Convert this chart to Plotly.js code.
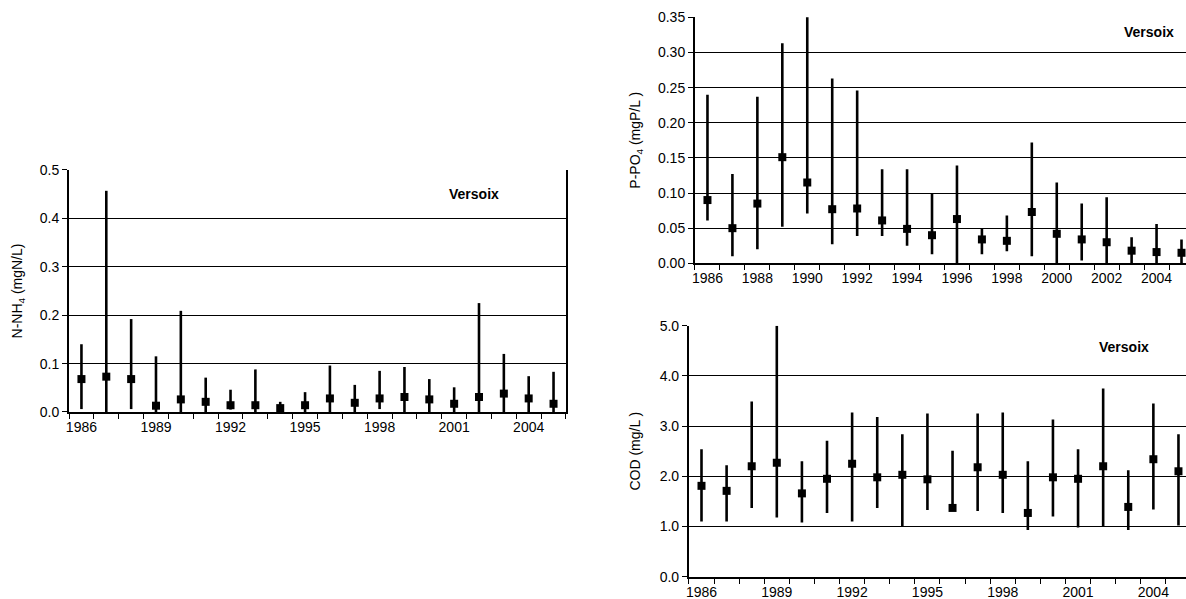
<!DOCTYPE html>
<html>
<head>
<meta charset="utf-8">
<script src="https://cdn.plot.ly/plotly-3.0.1.min.js"></script>
<style>
  html, body { margin: 0; padding: 0; background: #fff; }
  #chart { width: 1186px; height: 599px; }
</style>
</head>
<body>
<div id="chart"></div>
<script>
// Annual statistics for the Versoix: yearly mean with min-max range
const years = [1986, 1987, 1988, 1989, 1990, 1991, 1992, 1993, 1994, 1995,
               1996, 1997, 1998, 1999, 2000, 2001, 2002, 2003, 2004, 2005];

// Ammonium N-NH4 (mgN/L)
const nh4Mean = [0.068, 0.073, 0.068, 0.013, 0.026, 0.021, 0.014, 0.014, 0.008, 0.014,
                 0.028, 0.019, 0.028, 0.031, 0.026, 0.017, 0.031, 0.038, 0.028, 0.017];
const nh4Max  = [0.140, 0.457, 0.192, 0.115, 0.209, 0.071, 0.046, 0.088, 0.021, 0.041,
                 0.096, 0.056, 0.085, 0.093, 0.068, 0.051, 0.225, 0.120, 0.074, 0.083];
const nh4Min  = [0.006, 0.000, 0.006, 0.000, 0.000, 0.000, 0.005, 0.000, 0.000, 0.000,
                 0.000, 0.000, 0.006, 0.000, 0.000, 0.000, 0.000, 0.000, 0.000, 0.000];

// Orthophosphate P-PO4 (mgP/L)
const po4Mean = [0.090, 0.050, 0.085, 0.151, 0.115, 0.077, 0.078, 0.061, 0.049, 0.040,
                 0.063, 0.034, 0.032, 0.073, 0.042, 0.034, 0.030, 0.018, 0.016, 0.015];
const po4Max  = [0.240, 0.127, 0.237, 0.313, 0.356, 0.263, 0.246, 0.134, 0.134, 0.100,
                 0.139, 0.049, 0.068, 0.172, 0.115, 0.085, 0.094, 0.037, 0.056, 0.034];
const po4Min  = [0.061, 0.010, 0.020, 0.052, 0.071, 0.027, 0.039, 0.039, 0.025, 0.013,
                 0.000, 0.013, 0.017, 0.010, 0.000, 0.004, 0.000, 0.000, 0.000, 0.000];

// Chemical oxygen demand COD (mg/L)
const codMean = [1.81, 1.71, 2.20, 2.27, 1.66, 1.95, 2.25, 1.98, 2.03, 1.94,
                 1.37, 2.18, 2.03, 1.27, 1.98, 1.95, 2.20, 1.39, 2.34, 2.10];
const codMax  = [2.54, 2.22, 3.49, 5.00, 2.30, 2.71, 3.27, 3.18, 2.84, 3.25,
                 2.51, 3.25, 3.27, 2.30, 3.13, 2.54, 3.75, 2.12, 3.45, 2.84];
const codMin  = [1.10, 1.10, 1.37, 1.18, 1.08, 1.27, 1.10, 1.37, 1.00, 1.33,
                 1.37, 1.31, 1.27, 0.93, 1.20, 0.98, 1.00, 0.93, 1.34, 1.02];

const stationName = 'Versoix';
const labelsEvery3 = [1986, 1989, 1992, 1995, 1998, 2001, 2004];
const labelsEvery2 = [1986, 1988, 1990, 1992, 1994, 1996, 1998, 2000, 2002, 2004];

const FONT = '"Liberation Sans", Arial, Helvetica, sans-serif';
const boundaries = years.map(y => y - 0.5).concat([years[years.length - 1] + 0.5]);

function rangeTrace(mean, max, min, xa, ya) {
  return {
    type: 'scatter', mode: 'markers',
    x: years, y: mean, xaxis: xa, yaxis: ya,
    cliponaxis: false,
    marker: { symbol: 'square', size: 8, color: '#000' },
    error_y: {
      type: 'data', symmetric: false,
      array: max.map((v, i) => v - mean[i]),
      arrayminus: min.map((v, i) => mean[i] - v),
      color: '#000', thickness: 2.6, width: 0
    },
    hoverinfo: 'x+y'
  };
}

function xAxis(domain, labels, rightEdge, anchor) {
  return {
    domain: domain, anchor: anchor,
    range: [1985.5, rightEdge],
    tickmode: 'array', tickvals: labels, ticktext: labels.map(String),
    ticks: 'outside', ticklen: 1, tickcolor: 'rgba(0,0,0,0)',
    minor: { tickmode: 'array', tickvals: boundaries, ticks: 'outside',
             ticklen: 5, tickwidth: 1, tickcolor: '#000', showgrid: false },
    showline: true, linewidth: 2, linecolor: '#000',
    showgrid: false, zeroline: false, fixedrange: true,
    tickfont: { family: FONT, size: 14, color: '#000' }
  };
}

function yAxis(domain, range, dtick, fmt, title, mirror, anchor, standoff) {
  return {
    domain: domain, anchor: anchor, range: range,
    tick0: 0, dtick: dtick, tickformat: fmt,
    ticks: 'outside', ticklen: 5, tickwidth: 1, tickcolor: '#000',
    showline: true, linewidth: 2, linecolor: '#000', mirror: mirror,
    showgrid: true, gridcolor: '#000', gridwidth: 1, zeroline: false,
    fixedrange: true,
    tickfont: { family: FONT, size: 14, color: '#000' },
    title: { text: title, font: { family: FONT, size: 14, color: '#000' }, standoff: standoff }
  };
}

const data = [
  rangeTrace(nh4Mean, nh4Max, nh4Min, 'x', 'y'),
  rangeTrace(po4Mean, po4Max, po4Min, 'x2', 'y2'),
  rangeTrace(codMean, codMax, codMin, 'x3', 'y3')
];

function stationLabel(x, y) {
  return { text: '<b>' + stationName + '</b>', xref: 'paper', yref: 'paper',
           x: x, y: y, xanchor: 'center', yanchor: 'middle', showarrow: false,
           font: { family: FONT, size: 14, color: '#000' } };
}

const layout = {
  width: 1186, height: 599,
  margin: { l: 0, r: 0, t: 0, b: 0 },
  paper_bgcolor: '#fff', plot_bgcolor: '#fff',
  showlegend: false,
  font: { family: FONT, size: 14, color: '#000' },
  xaxis:  xAxis([0.0582, 0.4772], labelsEvery3, 2005.5, 'y'),
  yaxis:  yAxis([0.3122, 0.7162], [0, 0.5], 0.1, '.1f', 'N-NH<sub>4</sub> (mgN/L)', true, 'x', 14),
  xaxis2: xAxis([0.5860, 1], labelsEvery2, 2005.18, 'y2'),
  yaxis2: yAxis([0.5604, 0.9711], [0, 0.35], 0.05, '.2f', 'P-PO<sub>4</sub> (mgP/L )', false, 'x2', 14),
  xaxis3: xAxis([0.5809, 1], labelsEvery3, 2005.3, 'y3'),
  yaxis3: yAxis([0.0372, 0.4563], [0, 5], 1, '.1f', 'COD (mg/L )', false, 'x3', 16),
  annotations: [
    stationLabel(0.3998, 0.6761),
    stationLabel(0.9690, 0.9466),
    stationLabel(0.9477, 0.4207)
  ]
};

Plotly.newPlot('chart', data, layout, { displayModeBar: false, staticPlot: true });
</script>
</body>
</html>
